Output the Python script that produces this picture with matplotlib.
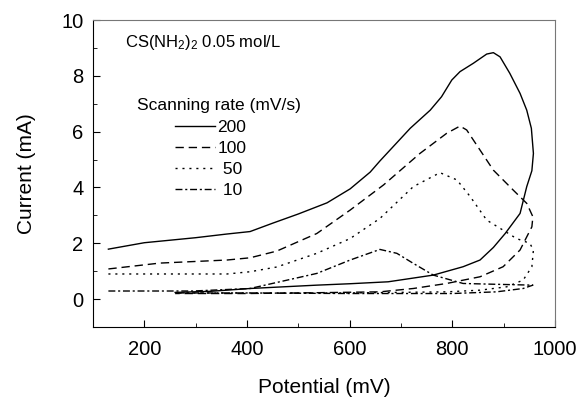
import matplotlib
matplotlib.use("Agg")
import matplotlib.pyplot as plt
from matplotlib.ticker import MultipleLocator

plt.rcParams['font.family'] = ['Liberation Sans', 'DejaVu Sans']
plt.rcParams['mathtext.fontset'] = 'custom'
plt.rcParams['mathtext.rm'] = 'Liberation Sans'

# cyclic voltammograms (forward sweep then return)
pot_200 = [130, 200, 300, 360, 406, 450, 500, 556, 601, 640, 659, 718, 757, 779, 799, 815, 841, 867, 880, 893, 912,
           932, 945, 954, 958, 955, 945, 932, 903, 880, 854, 821, 763, 675, 600, 536, 406, 330, 260]
cur_200 = [1.79, 2.02, 2.2, 2.33, 2.42, 2.72, 3.05, 3.45, 3.95, 4.55, 4.95, 6.12, 6.77, 7.25, 7.85, 8.15, 8.45, 8.78, 8.83, 8.68, 8.09,
           7.37, 6.77, 6.12, 5.22, 4.6, 4.03, 3.07, 2.35, 1.85, 1.4, 1.16, 0.86, 0.62, 0.55, 0.5, 0.38, 0.28, 0.24]

pot_100 = [130, 230, 361, 406, 458, 536, 601, 666, 737, 789, 815, 828, 854, 880, 919, 945, 957, 955,
           945, 932, 899, 854, 789, 724, 659, 500, 400, 260]
cur_100 = [1.08, 1.29, 1.4, 1.48, 1.72, 2.35, 3.19, 4.09, 5.22, 5.94, 6.2, 6.06, 5.34, 4.62, 3.9, 3.43, 2.95, 2.59,
           2.23, 1.76, 1.16, 0.8, 0.56, 0.38, 0.26, 0.22, 0.2, 0.2]

pot_50 = [130, 361, 406, 458, 536, 601, 659, 724, 776, 809, 835, 867, 899, 925, 951, 958, 955, 938, 906, 854,
          789, 600, 400, 260]
cur_50 = [0.9, 0.9, 0.98, 1.15, 1.64, 2.17, 2.89, 4.03, 4.53, 4.27, 3.67, 2.83, 2.47, 2.17, 2.0, 1.76, 1.16, 0.68, 0.44, 0.32,
          0.26, 0.22, 0.22, 0.22]

pot_10 = [130, 295, 406, 536, 601, 659, 692, 724, 763, 821, 886, 957, 938, 886, 800, 600, 400, 260]
cur_10 = [0.29, 0.29, 0.38, 0.92, 1.4, 1.78, 1.64, 1.28, 0.86, 0.56, 0.53, 0.5, 0.38, 0.26, 0.2, 0.2, 0.22, 0.22]

fig = plt.figure(figsize=(5.79, 3.97), dpi=100)
ax = fig.add_axes([0.1606, 0.1763, 0.7979, 0.7733])

ax.plot(pot_200, cur_200, color='black', lw=1.0, ls='-', label='200')
ax.plot(pot_100, cur_100, color='black', lw=1.0, ls=(0, (6, 3.5)), label='100')
ax.plot(pot_50, cur_50, color='black', lw=1.0, ls=(0, (1.5, 3.5)), label=' 50')
ax.plot(pot_10, cur_10, color='black', lw=1.0, ls=(0, (5, 2, 1.5, 2)), label=' 10')

ax.set_xlim(100, 1000)
ax.set_ylim(-1, 10)
ax.xaxis.set_major_locator(MultipleLocator(200))
ax.xaxis.set_minor_locator(MultipleLocator(100))
ax.yaxis.set_major_locator(MultipleLocator(2))
ax.yaxis.set_minor_locator(MultipleLocator(1))
ax.tick_params(which='both', direction='in', top=False, right=False, labelsize=14.5)
ax.tick_params(axis='x', which='both', pad=9)
ax.tick_params(axis='y', which='both', pad=7)
ax.tick_params(which='major', length=5)
ax.tick_params(which='minor', length=3)
for s in ['top', 'right']:
    ax.spines[s].set_color('#777777')

ax.set_xlabel('Potential (mV)', fontsize=15, labelpad=14)
ax.set_ylabel('Current (mA)', fontsize=15, labelpad=18)

ax.text(0.069, 0.928, r'$\mathregular{CS(NH_2)_2}$ 0.05 mol/L', transform=ax.transAxes,
        fontsize=12, va='center')
ax.text(0.095, 0.72, 'Scanning rate (mV/s)', transform=ax.transAxes, fontsize=12.5, va='center')

ax.legend(frameon=False, fontsize=12.5, loc='upper left', bbox_to_anchor=(0.1775, 0.674),
          handlelength=2.3, handletextpad=0.15, labelspacing=0.33, borderpad=0, borderaxespad=0)

fig.savefig('out.png', dpi=100)
